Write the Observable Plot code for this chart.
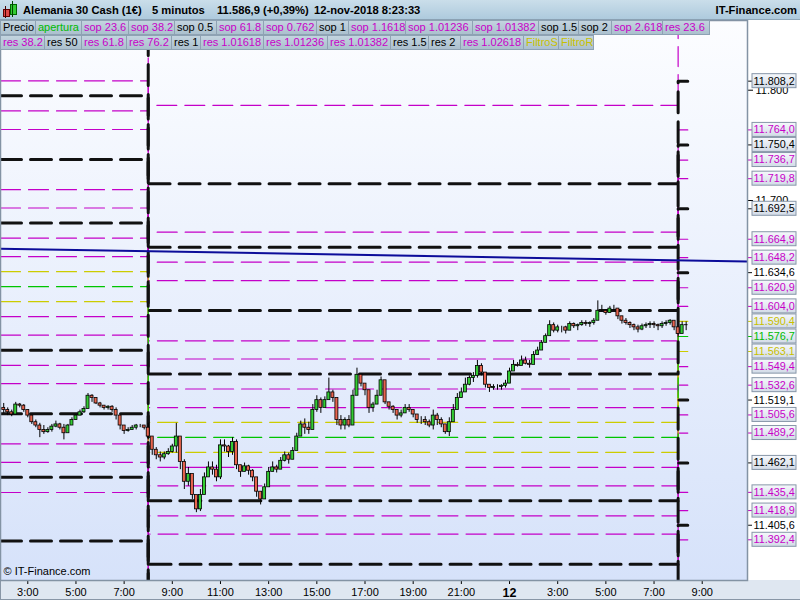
<!DOCTYPE html>
<html>
<head>
<meta charset="utf-8">
<script src="https://cdn.jsdelivr.net/npm/d3@7"></script>
<script src="https://cdn.jsdelivr.net/npm/@observablehq/plot@0.6"></script>
<style>
  body { margin: 0; width: 800px; height: 600px; overflow: hidden; background: #fff; position: relative;
         font-family: "Liberation Sans", Arial, sans-serif; }
  #header { position: absolute; left: 0; top: 0; width: 800px; height: 20px; box-sizing: border-box;
            background: linear-gradient(#cadeea, #aecadd); border-bottom: 1px solid #8ea6b8;
            font-weight: bold; font-size: 11.2px; color: #000; }
  #header .h { position: absolute; top: 3px; line-height: 14px; white-space: nowrap; }
  #bottomStrip { position: absolute; left: 0; top: 580px; width: 800px; height: 20px; box-sizing: border-box;
                 background: #dfe7f1; border-bottom: 1px solid #8896a6; border-left: 1px solid #8896a6; }
  #chart { position: absolute; left: 0; top: 20px; }
  .row { position: absolute; left: 0; height: 15px; display: flex; }
  .box { box-sizing: border-box; height: 15px; border: 1px solid #8ea2b3; margin-right: -1px;
         background: linear-gradient(#c3d4df, #abc0ce); font-size: 11px; line-height: 13px;
         padding-left: 2px; white-space: nowrap; overflow: visible; }
  .icon { position: absolute; }
</style>
</head>
<body>
<div id="header">
  <div class="icon" style="left:3px;top:9px;width:5px;height:6px;background:#e04848;border:1px solid #600"></div>
  <div class="icon" style="left:5px;top:6px;width:1px;height:12px;background:#400"></div>
  <div class="icon" style="left:10px;top:4px;width:5px;height:9px;background:#33cc33;border:1px solid #060"></div>
  <div class="icon" style="left:12px;top:1px;width:1px;height:16px;background:#040"></div>
  <div class="h" style="left:23px">Alemania 30 Cash (1€)</div>
  <div class="h" style="left:152px">5 minutos</div>
  <div class="h" style="left:217px">11.586,9 (+0,39%)</div>
  <div class="h" style="left:314px">12-nov-2018 8:23:33</div>
  <div class="h" style="right:3px">IT-Finance.com</div>
</div>
<div id="bottomStrip"></div>
<div id="chart"></div>
<div class="row" id="row1" style="top:20px"></div>
<div class="row" id="row2" style="top:35px"></div>
<script>
// ---------------- DATA ----------------
// x positions are "session hours": Friday 9-nov hours as-is, Monday 12-nov hours + 22
const candleStartHour = 2;          // first candle: Fri 2:00
const candleStepHours = 1 / 6;      // 10-minute candles
const firstOpen = 11512;
const closes = [
  11510,11508,11506,11515,11514,11510,11505,11499,11496,11492,11490,11492,11495,11497,11494,11489,11496,11501,
  11505,11508,11511,11523,11521,11516,11514,11512,11513,11510,11505,11496,11491,11492,11494,11496,11496,11494,
  11486,11474,11469,11467,11470,11472,11477,11486,11463,11445,11452,11433,11420,11433,11449,11458,11456,11449,
  11478,11477,11472,11481,11460,11454,11459,11455,11449,11436,11429,11440,11454,11458,11456,11464,11469,11465,
  11473,11486,11497,11494,11492,11510,11519,11512,11519,11526,11521,11501,11496,11501,11496,11523,11542,11534,
  11528,11512,11515,11523,11537,11517,11513,11510,11505,11507,11512,11510,11506,11501,11501,11499,11496,11505,
  11501,11497,11490,11499,11510,11521,11526,11533,11539,11541,11550,11544,11533,11530,11531,11531,11532,11534,
  11545,11551,11550,11555,11552,11551,11560,11564,11571,11577,11587,11582,11585,11585,11582,11588,11586,11587,
  11589,11588,11589,11591,11600,11600,11598,11602,11602,11595,11591,11589,11587,11585,11583,11586,11587,11588,
  11587,11586,11588,11589,11591,11585,11579,11587,11586.9
];
const highs = [
  11516,11512,11510,11517,11516,11515,11510,11505,11501,11498,11496,11494,11497,11500,11498,11497,11497,11503,
  11506,11510,11513,11525,11524,11521,11517,11514,11514,11514,11512,11503,11496,11494,11496,11497,11497,11496,
  11498,11485,11476,11472,11472,11475,11479,11498,11483,11465,11458,11449,11431,11438,11453,11463,11463,11460,
  11483,11483,11478,11485,11483,11460,11462,11460,11456,11447,11436,11443,11458,11463,11460,11467,11472,11471,
  11476,11489,11500,11502,11499,11515,11523,11521,11522,11539,11528,11517,11505,11503,11505,11528,11548,11541,
  11534,11521,11517,11528,11540,11532,11517,11514,11508,11510,11515,11515,11510,11505,11504,11504,11501,11510,
  11507,11503,11497,11503,11515,11525,11530,11539,11541,11544,11555,11552,11543,11533,11533,11533,11533,11537,
  11548,11555,11553,11559,11558,11555,11563,11567,11573,11579,11591,11589,11587,11586,11586,11590,11589,11588,
  11591,11591,11590,11593,11609,11605,11601,11604,11605,11600,11595,11593,11590,11588,11587,11588,11589,11590,
  11590,11588,11590,11591,11592,11589,11585,11590,11590
];
const lows = [
  11507,11505,11504,11510,11512,11508,11503,11497,11494,11485,11488,11489,11490,11494,11492,11483,11490,11497,
  11501,11505,11507,11512,11517,11515,11512,11510,11510,11508,11501,11492,11488,11490,11492,11492,11494,11492,
  11483,11469,11465,11463,11465,11469,11471,11471,11456,11438,11441,11429,11417,11418,11438,11451,11451,11445,
  11447,11472,11467,11469,11456,11449,11454,11451,11445,11431,11424,11429,11443,11454,11453,11458,11463,11461,
  11465,11474,11486,11488,11488,11494,11508,11507,11513,11519,11517,11496,11492,11492,11494,11505,11528,11531,
  11523,11507,11508,11515,11526,11515,11510,11507,11501,11503,11507,11508,11503,11498,11497,11496,11494,11492,
  11496,11494,11488,11486,11501,11515,11521,11526,11532,11535,11539,11541,11530,11526,11528,11528,11528,11530,
  11539,11546,11549,11551,11551,11548,11553,11560,11566,11571,11578,11580,11580,11580,11579,11584,11584,11582,
  11586,11586,11585,11587,11593,11599,11596,11598,11600,11592,11588,11587,11584,11582,11580,11582,11584,11584,
  11584,11582,11584,11586,11587,11582,11576,11580,11582
];

// pivot / fibonacci levels: Thursday's (drawn before Fri 8:00), Friday's, Monday's
const levelNames = ["FiltroR","FiltroS","apertura",
  "res 23.6","res 38.2","res 50","res 61.8","res 76.2","res 1","res 1.01236","res 1.01382","res 1.5","res 1.01618","res 2","res 1.02618",
  "sop 23.6","sop 38.2","sop 0.5","sop 61.8","sop 0.762","sop 1","sop 1.01236","sop 1.01382","sop 1.5","sop 1.1618","sop 2","sop 2.618"];
const levelKinds = ["filter","filter","open",
  "fib","fib","pivot","fib","fib","pivot","fib","fib","pivot","fib","pivot","fib",
  "fib","fib","pivot","fib","fib","pivot","fib","fib","pivot","fib","pivot","fib"];
const levelThu = [11635.5,11608.3,11621.9,
  11649.1,11665.9,11679.6,11693.2,11709.8,11737.2,11764.4,11781.2,11794.9,11808.5,11852.5,11923.8,
  11594.7,11577.9,11564.3,11550.6,11534.0,11506.6,11479.4,11462.6,11449.0,11435.3,11391.3,11320.0];
const levelFri = [11498.8,11471.6,11485.2,
  11512.3,11529.1,11542.7,11556.3,11572.8,11600.2,11627.3,11644.1,11657.7,11671.3,11715.2,11786.3,
  11458.1,11441.3,11427.7,11414.1,11397.6,11370.2,11343.1,11326.3,11312.7,11299.1,11255.2,11184.1];
const levelMon = [11590.4,11563.1,11576.7,
  11604.0,11620.9,11634.6,11648.2,11664.9,11692.5,11719.8,11736.7,11750.4,11764.0,11808.2,11879.9,
  11549.4,11532.6,11519.1,11505.6,11489.2,11462.1,11435.4,11418.9,11405.6,11392.4,11345.1,11273.6];
const sessionStarts = [8, 30];       // Fri 8:00, Mon 8:00
const lastBarHour = 30.4;            // Mon 8:23

// trend line
const trendHours = [1.867, 32.88];
const trendPrices = [11656.3, 11644.7];

// axes
const viewHours = [1.867, 32.88];
const viewPrices = [11355.5, 11863.2];
const xTickHours = [3,5,7,9,11,13,15,17,19,21,23,25,27,29,31];
const xTickLabels = ["3:00","5:00","7:00","9:00","11:00","13:00","15:00","17:00","19:00","21:00","12","3:00","5:00","7:00","9:00"];
const yTicks = [11700, 11800];

// legend
const legendRow1 = ["Precio","apertura","sop 23.6","sop 38.2","sop 0.5","sop 61.8","sop 0.762","sop 1","sop 1.1618","sop 1.01236","sop 1.01382","sop 1.5","sop 2","sop 2.618","res 23.6"];
const legendRow2 = ["res 38.2","res 50","res 61.8","res 76.2","res 1","res 1.01618","res 1.01236","res 1.01382","res 1.5","res 2","res 1.02618","FiltroS","FiltroR"];

// ---------------- STYLE ----------------
const kindColor = {pivot: "#111111", fib: "#c400c8", open: "#00c400", filter: "#cccc00", price: "#000000"};
const kindText = {pivot: "#000000", fib: "#c800c8", open: "#00bb00", filter: "#c8c000", price: "#000000"};
const row1Widths = [35,46,47,46,42,47,53,32,57,67,66,40,33,51,47];
const row2Widths = [44,37,45,45,29,63,64,63,38,32,63,35,35];
const unboxed = new Set(["res 50","sop 0.5","sop 1.5"]);

// ---------------- BUILD ----------------
const locale = d3.formatLocale({decimal: ",", thousands: ".", grouping: [3]});
const fmt1 = locale.format(",.1f");
const fmt0 = locale.format(",.0f");

const candles = closes.map((c, i) => ({
  t: candleStartHour + i * candleStepHours,
  open: i === 0 ? firstOpen : closes[i - 1],
  close: c, high: highs[i], low: lows[i]
}));

const levels = levelNames.map((name, i) => ({name, kind: levelKinds[i], thu: levelThu[i], fri: levelFri[i], mon: levelMon[i]}));
const levelPts = levels.flatMap(L => [
  {name: L.name, kind: L.kind, t: viewHours[0], v: L.thu},
  {name: L.name, kind: L.kind, t: sessionStarts[0], v: L.fri},
  {name: L.name, kind: L.kind, t: sessionStarts[1], v: L.mon},
  {name: L.name, kind: L.kind, t: lastBarHour, v: L.mon}
]);
const kindByName = new Map(levels.map(L => [L.name, L.kind]));
kindByName.set("Precio", "price");

const labelsRight = levels.filter(L => L.mon >= viewPrices[0] + 20 && L.mon <= 11810);
const boxed = labelsRight.filter(L => !unboxed.has(L.name));
const trend = trendHours.map((t, i) => ({t, v: trendPrices[i]}));
const xLabel = new Map(xTickHours.map((h, i) => [h, xTickLabels[i]]));
const xEnd = viewHours[1];

function levelLine(kind, width, dash) {
  return Plot.line(levelPts.filter(d => d.kind === kind), {
    x: "t", y: "v", z: "name", curve: "step-after", stroke: kindColor[kind],
    strokeWidth: width, strokeDasharray: dash, clip: true
  });
}

const chart = Plot.plot({
  width: 800, height: 580,
  marginTop: 0, marginBottom: 20, marginLeft: 0, marginRight: 53,
  style: {background: "transparent", fontFamily: "Liberation Sans, Arial, sans-serif", fontSize: "11px", color: "#000", overflow: "visible"},
  x: {domain: viewHours, ticks: xTickHours, tickFormat: d => xLabel.get(d), tickSize: 4, tickPadding: 4, label: null},
  y: {domain: viewPrices, axis: "right", ticks: yTicks, tickFormat: d => fmt0(d), tickSize: 5, tickPadding: 3, label: null},
  marks: [
    Plot.frame({fill: "url(#bgGrad)", stroke: "none"}),
    levelLine("fib", 1.2, "20,8"),
    levelLine("filter", 1.2, "20,8"),
    levelLine("open", 1.2, "20,8"),
    levelLine("pivot", 3, "21,9"),
    Plot.line(trend, {x: "t", y: "v", stroke: "#0c0c9a", strokeWidth: 2, clip: true}),
    Plot.ruleX(candles, {x: "t", y1: "low", y2: "high", stroke: "#000", strokeWidth: 1}),
    Plot.rect(candles, {x1: "t", x2: "t", y1: "open", y2: "close", insetLeft: -1.5, insetRight: -1.5,
      fill: d => d.close >= d.open ? "#33cc33" : "#e8644e", stroke: "#000", strokeWidth: 0.8}),
    Plot.text(["© IT-Finance.com"], {frameAnchor: "bottom-left", dx: 3, dy: -6, textAnchor: "start", fontSize: 11, fill: "#000"}),
    Plot.ruleY(labelsRight, {x1: () => xEnd, x2: () => xEnd, y: "mon", insetRight: -5, stroke: d => kindColor[d.kind], strokeWidth: 1}),
    Plot.rect(boxed, {x1: () => xEnd, x2: () => xEnd, y1: "mon", y2: "mon", insetLeft: 5, insetRight: -49,
      insetTop: -7, insetBottom: -7, fill: "url(#lblGrad)", stroke: "#8796a8", strokeWidth: 1}),
    Plot.text(labelsRight, {x: () => xEnd, y: "mon", text: d => fmt1(d.mon), dx: 6, textAnchor: "start",
      fill: d => kindText[d.kind], fontSize: 10.8}),
    Plot.frame({stroke: "#8393a4", strokeWidth: 1.5})
  ]
});

const svg = d3.select(chart);
const defs = svg.insert("defs", ":first-child");
const g1 = defs.append("linearGradient").attr("id", "bgGrad").attr("x1", 0).attr("y1", 0).attr("x2", 0).attr("y2", 1);
g1.append("stop").attr("offset", "0%").attr("stop-color", "#fcfdff");
g1.append("stop").attr("offset", "100%").attr("stop-color", "#d6e2fa");
const g2 = defs.append("linearGradient").attr("id", "lblGrad").attr("x1", 0).attr("y1", 0).attr("x2", 0).attr("y2", 1);
g2.append("stop").attr("offset", "0%").attr("stop-color", "#f6f8fc");
g2.append("stop").attr("offset", "100%").attr("stop-color", "#d2dbe7");
svg.selectAll("text").filter(function () { return this.textContent === "12"; })
  .attr("font-weight", "bold").attr("font-size", 12.5);
document.getElementById("chart").appendChild(chart);

function fillRow(id, names, widths) {
  const row = document.getElementById(id);
  names.forEach((n, i) => {
    const d = document.createElement("div");
    d.className = "box";
    d.style.width = (widths[i] + 1) + "px";
    d.style.color = kindText[kindByName.get(n) || "fib"];
    d.textContent = n;
    row.appendChild(d);
  });
}
fillRow("row1", legendRow1, row1Widths);
fillRow("row2", legendRow2, row2Widths);
</script>
</body>
</html>
